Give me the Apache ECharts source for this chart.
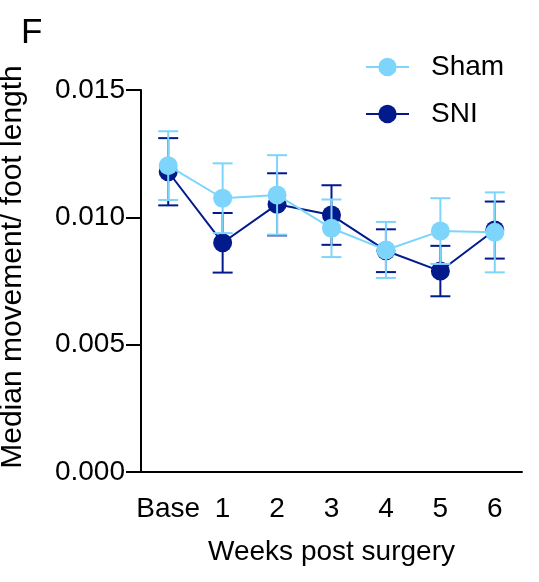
<!DOCTYPE html>
<html>
<head>
<meta charset="utf-8">
<script src="https://cdn.jsdelivr.net/npm/echarts@6/dist/echarts.min.js"></script>
<style>
  html, body { margin: 0; padding: 0; background: #fff; }
  #chart { width: 539px; height: 582px; }
</style>
</head>
<body>
<div id="chart"></div>
<script>
// Time points
const weeks = ['Base', '1', '2', '3', '4', '5', '6'];

// Median movement / foot length (mean ± SEM)
const shamMean = [0.01203, 0.01075, 0.01088, 0.00957, 0.00872, 0.00946, 0.00941];
const shamSem  = [0.00135, 0.00137, 0.00156, 0.00113, 0.00110, 0.00129, 0.00157];
const sniMean  = [0.01179, 0.00900, 0.01051, 0.01009, 0.00869, 0.00789, 0.00950];
const sniSem   = [0.00132, 0.00117, 0.00122, 0.00117, 0.00084, 0.00099, 0.00112];

const yTicks = [0, 0.005, 0.010, 0.015];

const SHAM_COLOR = '#7dd5fb';
const SNI_COLOR = '#021a8c';
const FONT = '"Liberation Sans", Arial, Helvetica, sans-serif';

function errorData(mean, sem) {
  return mean.map((m, i) => [i, m - sem[i], m + sem[i]]);
}

// Vertical SEM whiskers with caps
function errorSeries(name, mean, sem, color, z) {
  return {
    type: 'custom',
    name: name + ' SEM',
    z: z,
    silent: true,
    data: errorData(mean, sem),
    encode: { x: 0, y: [1, 2] },
    renderItem: function (params, api) {
      const x = api.value(0);
      const lo = api.coord([x, api.value(1)]);
      const hi = api.coord([x, api.value(2)]);
      const half = 10;
      const style = { stroke: color, lineWidth: 2 };
      return {
        type: 'group',
        children: [
          { type: 'line', shape: { x1: lo[0], y1: lo[1], x2: hi[0], y2: hi[1] }, style: style },
          { type: 'line', shape: { x1: lo[0] - half, y1: lo[1], x2: lo[0] + half, y2: lo[1] }, style: style },
          { type: 'line', shape: { x1: hi[0] - half, y1: hi[1], x2: hi[0] + half, y2: hi[1] }, style: style }
        ]
      };
    }
  };
}

function lineSeries(name, mean, color, z) {
  return {
    type: 'line',
    name: name,
    z: z,
    data: mean,
    symbol: 'circle',
    symbolSize: 19,
    itemStyle: { color: color },
    lineStyle: { color: color, width: 2 },
    emphasis: { disabled: true },
    animation: false
  };
}

const chart = echarts.init(document.getElementById('chart'), null, { renderer: 'canvas' });

chart.setOption({
  animation: false,
  backgroundColor: '#fff',
  textStyle: { fontFamily: FONT, color: '#000' },
  title: {
    text: 'F',
    left: 16,
    top: 11,
    textStyle: { fontFamily: FONT, fontSize: 35, fontWeight: 'normal', color: '#000' }
  },
  legend: {
    data: ['Sham', 'SNI'],
    orient: 'vertical',
    left: 360,
    top: 48,
    itemWidth: 43,
    itemHeight: 23,
    itemGap: 19,
    selectedMode: false,
    textStyle: { fontFamily: FONT, fontSize: 28, color: '#000', padding: [0, 0, 0, 17] }
  },
  grid: { left: 141, right: 17, top: 90, bottom: 110, containLabel: false, outerBoundsMode: 'none' },
  xAxis: {
    type: 'category',
    data: weeks,
    boundaryGap: true,
    name: 'Weeks post surgery',
    nameLocation: 'middle',
    nameGap: 66,
    nameTextStyle: { fontFamily: FONT, fontSize: 28, color: '#000' },
    axisLine: { lineStyle: { color: '#000', width: 2 } },
    axisTick: { alignWithLabel: true, length: 14, lineStyle: { color: '#000', width: 2 } },
    axisLabel: { interval: 0, hideOverlap: false, fontFamily: FONT, fontSize: 28, color: '#000', margin: 23 },
    splitLine: { show: false }
  },
  yAxis: {
    type: 'value',
    min: yTicks[0],
    max: yTicks[yTicks.length - 1],
    interval: yTicks[1] - yTicks[0],
    name: 'Median movement/ foot length',
    nameLocation: 'middle',
    nameGap: 113,
    nameTextStyle: { fontFamily: FONT, fontSize: 30, color: '#000', padding: [0, 0, 0, 28] },
    axisLine: { show: true, lineStyle: { color: '#000', width: 2 } },
    axisTick: { show: true, length: 15, lineStyle: { color: '#000', width: 2 } },
    axisLabel: {
      fontFamily: FONT, fontSize: 28, color: '#000', margin: 16,
      formatter: v => v.toFixed(3)
    },
    splitLine: { show: false }
  },
  series: [
    errorSeries('SNI', sniMean, sniSem, SNI_COLOR, 1),
    lineSeries('SNI', sniMean, SNI_COLOR, 2),
    errorSeries('Sham', shamMean, shamSem, SHAM_COLOR, 3),
    lineSeries('Sham', shamMean, SHAM_COLOR, 4)
  ]
});
</script>
</body>
</html>
